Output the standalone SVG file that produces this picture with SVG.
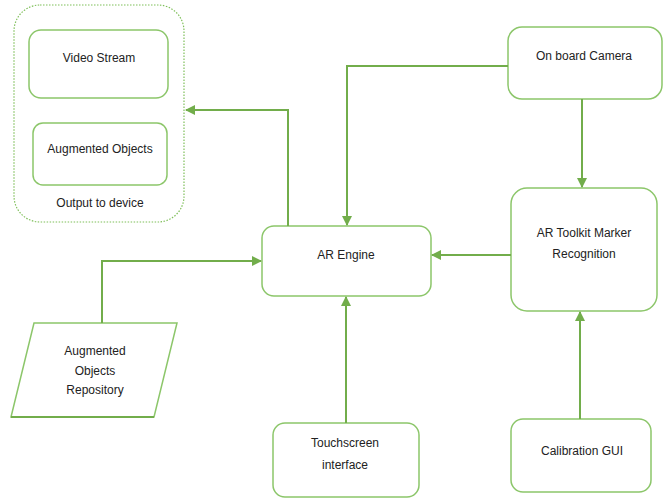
<svg xmlns="http://www.w3.org/2000/svg" width="665" height="499" viewBox="0 0 665 499">
<style>
.box{fill:#fff;stroke:#8cc66a;stroke-width:1.5}
.lbl{font-family:"Liberation Sans",Arial,sans-serif;font-size:12px;fill:#222;text-anchor:middle}
.con{fill:none;stroke:#72ad4b;stroke-width:2}
</style>
<defs>
<marker id="ah" viewBox="0 0 10 10" refX="9" refY="5" markerWidth="5" markerHeight="5" orient="auto" markerUnits="strokeWidth">
<path d="M0,0 L10,5 L0,10 z" fill="#72ad4b"/>
</marker>
</defs>
<rect width="665" height="499" fill="#fff"/>
<g id="output">
<rect x="14" y="5" width="170" height="217" rx="26" fill="#fff" stroke="#7fbf5a" stroke-width="1.2" stroke-dasharray="1.5,1.5"/>
<text class="lbl" x="100" y="207">Output to device</text>
</g>
<g id="video">
<rect class="box" x="29" y="30" width="139" height="68" rx="12"/>
<text class="lbl" x="99" y="62">Video Stream</text>
</g>
<g id="augobj">
<rect class="box" x="33" y="123" width="134" height="62" rx="10"/>
<text class="lbl" x="100" y="153">Augmented Objects</text>
</g>
<g id="engine">
<rect class="box" x="262" y="226" width="169" height="70" rx="12"/>
<text class="lbl" x="346" y="259">AR Engine</text>
</g>
<g id="camera">
<rect class="box" x="508" y="27" width="154" height="72" rx="14"/>
<text class="lbl" x="584" y="60">On board Camera</text>
</g>
<g id="toolkit">
<rect class="box" x="511" y="188" width="146" height="123" rx="16"/>
<text class="lbl" x="584" y="237">AR Toolkit Marker</text>
<text class="lbl" x="584" y="258">Recognition</text>
</g>
<g id="repo">
<path d="M34,323 L177,323 L154,417 L11,417 Z" fill="#fff" stroke="#8cc66a" stroke-width="1.5"/>
<path d="M11,417 L154,417" stroke="#72ad4b" stroke-width="2"/>
<text class="lbl" x="95" y="355">Augmented</text>
<text class="lbl" x="95" y="375">Objects</text>
<text class="lbl" x="95" y="394">Repository</text>
</g>
<g id="touch">
<rect class="box" x="273" y="423" width="146" height="74" rx="12"/>
<text class="lbl" x="345" y="447">Touchscreen</text>
<text class="lbl" x="345" y="469">interface</text>
</g>
<g id="calib">
<rect class="box" x="511" y="419" width="140" height="73" rx="12"/>
<text class="lbl" x="582" y="455">Calibration GUI</text>
</g>
<g id="connectors">
<path class="con" d="M288,226 L288,110 L186,110" marker-end="url(#ah)"/>
<path class="con" d="M508,66 L347,66 L347,225" stroke="#8cc66a" marker-end="url(#ah)"/>
<path class="con" d="M582,99 L582,187" marker-end="url(#ah)"/>
<path class="con" d="M511,255 L432,255" stroke="#8cc66a" marker-end="url(#ah)"/>
<path class="con" d="M102,323 L102,261 L261,261" marker-end="url(#ah)"/>
<path class="con" d="M346,423 L346,297" marker-end="url(#ah)"/>
<path class="con" d="M580,419 L580,312" stroke="#8cc66a" marker-end="url(#ah)"/>
</g>
</svg>
